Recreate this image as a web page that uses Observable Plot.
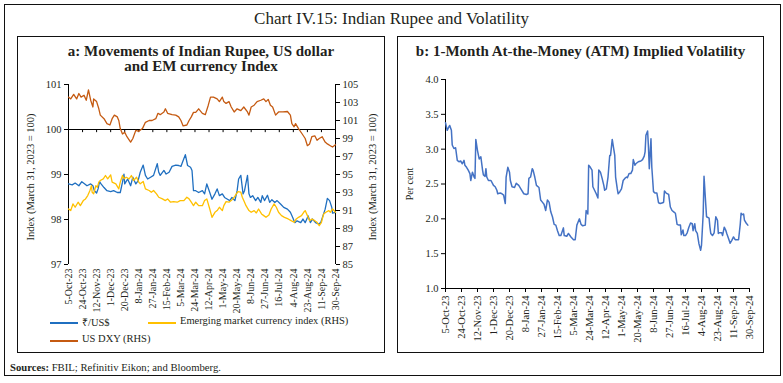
<!DOCTYPE html>
<html><head><meta charset="utf-8">
<script src="https://cdn.jsdelivr.net/npm/d3@7"></script>
<script src="https://cdn.jsdelivr.net/npm/@observablehq/plot@0.6"></script>
<style>
body{margin:0;background:#fff;}
#wrap{position:relative;width:783px;height:383px;font-family:"Liberation Serif",serif;color:#231f20;overflow:hidden;background:#fff}
.box{position:absolute;border:1.3px solid #111;box-sizing:border-box}
.abs{position:absolute;white-space:nowrap}
.ttl{font-weight:bold;font-size:15px;text-align:center;line-height:15px}
.rot{transform:translate(-50%,-50%) rotate(-90deg);font-size:10.5px}
.leg{font-size:10.5px}
.sw{position:absolute;height:2px}
svg{overflow:visible}
</style></head>
<body>
<div id="wrap">
  <div class="box" style="left:4px;top:4px;width:777px;height:372px"></div>
  <div class="abs" style="left:0;width:783px;top:9px;text-align:center;font-size:17px;">Chart IV.15: Indian Rupee and Volatility</div>
  <div class="box" style="left:17px;top:36px;width:368px;height:317px"></div>
  <div class="box" style="left:397px;top:36px;width:367px;height:317px"></div>
  <div class="abs ttl" style="left:17px;width:368px;top:44px;">a: Movements of Indian Rupee, US dollar<br>and EM currency Index</div>
  <div class="abs ttl" style="left:397px;width:367px;top:44px;">b: 1-Month At-the-Money (ATM) Implied Volatility</div>
  <div id="left" class="abs" style="left:17px;top:72px;"></div>
  <div id="right" class="abs" style="left:397px;top:70px;"></div>
  <div class="abs rot" style="left:30px;top:177px;">Index (March 31, 2023 = 100)</div>
  <div class="abs rot" style="left:372px;top:177px;">Index (March 31, 2023 = 100)</div>
  <div class="abs rot" style="left:409px;top:184px;font-size:10px">Per cent</div>
  <div class="sw" style="left:50px;top:322px;width:28px;background:#1F6FC0"></div>
  <div class="abs leg" style="left:82px;top:315px;">₹/US$</div>
  <div class="sw" style="left:148px;top:322px;width:28px;background:#FFC000"></div>
  <div class="abs leg" style="left:180px;top:315px;">Emerging market currency index (RHS)</div>
  <div class="sw" style="left:50px;top:340px;width:28px;background:#C55A11"></div>
  <div class="abs leg" style="left:82px;top:333px;">US DXY (RHS)</div>
  <div class="abs" style="left:10px;top:361px;font-size:10.7px;"><b>Sources:</b> FBIL; Refinitiv Eikon; and Bloomberg.</div>
</div>
<script>
// Day numbers are counted from 5-Oct-2023 (day 0) to 30-Sep-2024 (day 361)
const xTickLabels = ["5-Oct-23","24-Oct-23","12-Nov-23","1-Dec-23","20-Dec-23","8-Jan-24","27-Jan-24","15-Feb-24","5-Mar-24","24-Mar-24","12-Apr-24","1-May-24","20-May-24","8-Jun-24","27-Jun-24","16-Jul-24","4-Aug-24","23-Aug-24","11-Sep-24","30-Sep-24"];
const lhsTicks = [97, 98, 99, 100, 101];
const rhsTicks = [85, 87, 89, 91, 93, 95, 97, 99, 101, 103, 105];
const volTicks = [1.0, 1.5, 2.0, 2.5, 3.0, 3.5, 4.0];

// [day, index] ₹/US$ (LHS)
const rupeeUSD = [[0,98.79],[5,98.77],[9,98.81],[14,98.75],[18,98.84],[22,98.79],[25,98.75],[30,98.79],[33,98.75],[35,98.64],[38,98.59],[40,98.68],[42,98.84],[44,98.79],[48,98.71],[52,98.64],[57,98.62],[61,98.64],[66,98.60],[70,98.60],[73,98.83],[75,99.01],[76,98.79],[80,98.90],[84,98.75],[87,98.94],[91,98.79],[94,98.86],[97,99.05],[101,99.21],[104,98.98],[107,98.90],[111,98.94],[115,98.98],[120,99.24],[122,99.05],[124,98.98],[129,99.09],[132,99.01],[136,99.05],[140,99.18],[145,99.21],[149,99.20],[152,99.18],[155,99.31],[158,99.44],[161,99.20],[165,99.16],[167,99.09],[169,98.64],[172,98.64],[176,98.60],[181,98.64],[184,98.57],[187,98.79],[191,98.60],[194,98.45],[198,98.57],[201,98.68],[204,98.53],[208,98.57],[211,98.49],[215,98.45],[218,98.42],[221,98.49],[225,98.42],[228,98.64],[230,98.90],[233,98.98],[236,98.57],[238,98.64],[242,98.98],[244,98.57],[246,98.49],[249,98.53],[253,98.42],[256,98.49],[260,98.38],[262,98.53],[265,98.42],[269,98.54],[272,98.38],[275,98.44],[279,98.38],[282,98.42],[287,98.34],[291,98.27],[296,98.23],[300,98.16],[303,98.05],[306,97.93],[309,97.97],[314,97.93],[317,98.01],[320,97.93],[324,98.08],[327,97.93],[330,98.01],[334,97.93],[338,97.90],[341,97.93],[344,98.08],[347,98.23],[350,98.47],[353,98.42],[356,98.27],[357,98.14],[361,98.16]];

// [day, index] US DXY (RHS)
const usDXY = [[0,103.6],[3,103.4],[7,103.9],[11,103.4],[14,104.0],[17,103.6],[21,103.8],[24,103.25],[27,104.4],[30,103.25],[33,102.5],[34,103.4],[38,103.1],[41,102.3],[43,101.6],[48,101.2],[52,100.65],[56,100.5],[59,101.2],[62,101.6],[66,101.4],[68,101.0],[70,100.1],[73,99.5],[76,99.7],[79,99.2],[84,98.6],[87,99.0],[91,99.9],[95,99.8],[100,100.1],[104,100.8],[109,101.0],[113,101.0],[118,101.2],[121,101.8],[124,101.65],[129,101.95],[131,102.3],[134,101.8],[140,101.65],[145,101.6],[149,101.4],[152,101.0],[155,100.4],[160,100.5],[163,101.0],[166,101.4],[169,101.9],[172,101.9],[176,102.3],[181,101.8],[185,101.65],[189,102.7],[192,103.6],[196,103.6],[201,103.4],[204,103.1],[208,103.6],[210,103.1],[213,102.9],[217,103.1],[220,102.5],[224,101.95],[228,102.3],[233,102.1],[237,102.5],[242,101.95],[244,101.6],[247,102.5],[251,102.7],[255,103.1],[260,103.25],[264,103.4],[267,103.1],[270,103.35],[273,102.7],[276,102.5],[280,101.6],[284,101.95],[290,101.95],[296,102.0],[300,101.6],[302,100.65],[305,100.3],[307,100.65],[311,100.1],[316,99.5],[320,99.0],[323,98.2],[326,98.4],[329,99.2],[333,99.3],[336,98.8],[339,99.0],[343,99.2],[347,98.6],[350,98.4],[354,98.2],[357,98.05],[361,98.3]];

// [day, index] Emerging market currency index (RHS)
const emIndex = [[0,91.17],[3,90.99],[6,91.73],[9,91.36],[13,91.92],[16,91.54],[20,92.1],[23,92.29],[26,92.66],[29,93.22],[31,93.77],[32,93.03],[34,92.85],[37,93.77],[39,93.59],[41,94.15],[43,94.33],[47,94.52],[50,94.89],[53,94.52],[57,94.96],[59,94.15],[64,93.96],[68,93.4],[70,94.15],[73,94.89],[75,94.52],[78,94.7],[82,94.52],[85,94.89],[88,94.33],[92,94.7],[95,94.15],[97,93.96],[101,94.22],[104,93.4],[109,93.22],[112,93.03],[115,93.22],[119,92.85],[122,92.47],[127,92.29],[131,92.1],[134,92.29],[138,91.92],[142,91.99],[147,91.92],[151,92.1],[156,92.1],[160,92.47],[163,92.29],[166,91.92],[169,91.54],[172,91.92],[176,91.54],[181,91.54],[184,92.1],[187,92.29],[191,91.17],[194,90.24],[198,90.8],[201,90.99],[204,91.36],[208,90.99],[210,91.54],[213,91.99],[217,91.92],[220,92.1],[224,92.47],[227,92.85],[229,93.1],[233,93.03],[235,92.47],[238,91.92],[240,91.54],[244,90.99],[247,90.8],[251,90.99],[254,90.73],[257,91.17],[261,90.62],[264,90.43],[267,90.24],[271,90.5],[274,91.17],[278,91.73],[281,91.36],[284,90.8],[288,90.43],[292,90.24],[297,90.06],[301,89.87],[305,89.69],[308,90.06],[311,90.24],[315,90.43],[318,90.8],[320,90.99],[323,90.43],[326,89.87],[329,90.06],[333,89.87],[336,89.69],[339,89.31],[342,89.69],[345,90.62],[348,90.8],[352,90.99],[354,90.8],[357,91.17],[361,90.8]];

// [day, per cent] 1-month ATM implied volatility
const atmVol = [[0,3.38],[2,3.27],[4,3.32],[5,3.34],[7,3.27],[8,3.06],[10,3.01],[12,3.02],[14,2.84],[16,2.82],[18,2.83],[20,2.79],[22,2.84],[23,2.77],[25,2.74],[27,2.70],[29,2.65],[30,2.55],[32,2.67],[34,2.60],[35,2.58],[36,3.14],[38,2.98],[40,2.86],[42,2.89],[44,2.70],[45,2.63],[47,2.61],[48,2.72],[49,2.60],[51,2.55],[54,2.55],[57,2.48],[59,2.46],[61,2.41],[62,2.36],[65,2.37],[67,2.36],[69,2.34],[71,2.22],[72,2.60],[74,2.74],[76,2.67],[77,2.55],[79,2.46],[82,2.45],[84,2.51],[87,2.48],[90,2.42],[93,2.36],[96,2.35],[98,2.36],[99,2.58],[101,2.60],[103,2.72],[104,2.70],[106,2.60],[108,2.48],[111,2.45],[113,2.27],[115,2.24],[117,2.21],[119,2.12],[121,2.27],[123,2.24],[125,2.10],[127,2.03],[129,1.92],[131,1.91],[133,1.83],[135,1.76],[137,1.76],[140,1.87],[141,1.76],[144,1.75],[146,1.79],[149,1.74],[152,1.70],[154,1.70],[156,1.91],[157,1.94],[159,2.00],[161,1.92],[163,1.90],[166,1.91],[167,2.12],[169,2.07],[170,2.77],[172,2.74],[174,2.70],[175,2.46],[177,2.41],[179,2.36],[181,2.30],[182,2.70],[184,2.67],[186,2.58],[188,2.48],[189,2.41],[191,2.43],[193,2.60],[195,2.91],[196,2.91],[198,3.14],[199,3.06],[201,2.91],[202,2.60],[204,2.43],[205,2.36],[207,2.39],[209,2.43],[211,2.55],[213,2.58],[215,2.60],[216,2.59],[218,2.65],[220,2.65],[222,2.70],[223,2.85],[225,2.77],[226,2.79],[229,2.82],[232,2.83],[234,2.85],[236,2.90],[237,2.96],[238,3.20],[240,3.26],[241,3.03],[242,2.72],[243,2.94],[244,3.15],[245,2.74],[247,2.39],[249,2.37],[251,2.37],[253,2.23],[255,2.22],[258,2.23],[259,2.24],[260,2.40],[262,2.37],[265,2.35],[267,2.17],[269,2.12],[271,2.10],[273,2.08],[275,1.92],[277,1.91],[279,1.91],[280,1.77],[282,1.84],[283,1.76],[285,1.76],[287,1.80],[289,1.88],[291,1.94],[293,1.93],[294,1.83],[296,1.93],[297,1.83],[299,1.79],[301,1.64],[303,1.55],[304,1.62],[306,2.07],[307,2.61],[309,2.22],[310,2.03],[313,2.01],[314,1.88],[315,1.79],[317,1.76],[319,1.80],[321,2.03],[323,1.98],[324,1.79],[325,1.80],[328,1.80],[329,1.76],[331,1.88],[333,1.83],[334,1.79],[336,1.72],[338,1.65],[340,1.69],[342,1.74],[344,1.70],[346,1.70],[348,1.70],[350,1.92],[351,2.08],[352,2.06],[354,2.07],[355,1.98],[357,1.94],[359,1.91]];

const parse = d3.timeParse("%d-%b-%y");
const fmt = d3.timeFormat("%-d-%b-%y");
const tickDates = xTickLabels.map(parse);
const start = tickDates[0], end = tickDates[tickDates.length - 1];
const toRows = arr => arr.map(([d, v]) => ({date: d3.timeDay.offset(start, d), v}));
// map right-hand scale (85–105) onto left-hand scale (97–101)
const toL = v => 97 + (v - 85) / 5;
const fromL = y => Math.round((y - 97) * 5 + 85);

const rupee = toRows(rupeeUSD), dxy = toRows(usDXY), em = toRows(emIndex), vol = toRows(atmVol);

const leftPlot = Plot.plot({
  width: 368, height: 240,
  marginLeft: 51, marginRight: 50, marginTop: 12, marginBottom: 48,
  style: {fontFamily: "'Liberation Serif', serif", fontSize: "10.5px", color: "#231f20", background: "transparent", overflow: "visible"},
  x: {type: "time", domain: [start, end]},
  y: {domain: [97, 101]},
  marks: [
    Plot.ruleY([100], {stroke: "#000", strokeWidth: 1}),
    Plot.ruleX(tickDates, {y1: 100, y2: 99.93, stroke: "#000"}),
    Plot.ruleX([start], {y1: 97, y2: 101, stroke: "#000"}),
    Plot.ruleX([end], {y1: 97, y2: 101, stroke: "#000"}),
    Plot.axisY({anchor: "left", ticks: lhsTicks, tickFormat: "d", tickSize: 4, tickPadding: 3, label: null, stroke: "#000"}),
    Plot.axisY({anchor: "right", ticks: rhsTicks.map(toL), tickFormat: fromL, tickSize: 4, tickPadding: 3, label: null, stroke: "#000"}),
    Plot.axisX({ticks: tickDates, tickFormat: fmt, tickRotate: -90, tickSize: 0, tickPadding: 4, label: null, fontSize: 10}),
    Plot.line(dxy, {x: "date", y: d => toL(d.v), stroke: "#C55A11", strokeWidth: 1.3}),
    Plot.line(rupee, {x: "date", y: "v", stroke: "#1F6FC0", strokeWidth: 1.3}),
    Plot.line(em, {x: "date", y: d => toL(d.v), stroke: "#FFC000", strokeWidth: 1.3})
  ]
});
document.getElementById("left").appendChild(leftPlot);

const rightPlot = Plot.plot({
  width: 367, height: 280,
  marginLeft: 48, marginRight: 15, marginTop: 9, marginBottom: 62,
  style: {fontFamily: "'Liberation Serif', serif", fontSize: "10.5px", color: "#231f20", background: "transparent", overflow: "visible"},
  x: {type: "time", domain: [start, end]},
  y: {domain: [1, 4]},
  marks: [
    Plot.ruleX([start], {y1: 1, y2: 4, stroke: "#000"}),
    Plot.ruleY([1], {stroke: "#000"}),
    Plot.axisY({ticks: volTicks, tickFormat: d3.format(".1f"), tickSize: 4, tickPadding: 3, label: null, stroke: "#000"}),
    Plot.axisX({ticks: tickDates, tickFormat: fmt, tickRotate: -90, tickSize: 4, tickPadding: 3, label: null, stroke: "#000"}),
    Plot.line(vol, {x: "date", y: "v", stroke: "#4472C4", strokeWidth: 1.5})
  ]
});
document.getElementById("right").appendChild(rightPlot);
</script>
</body></html>
